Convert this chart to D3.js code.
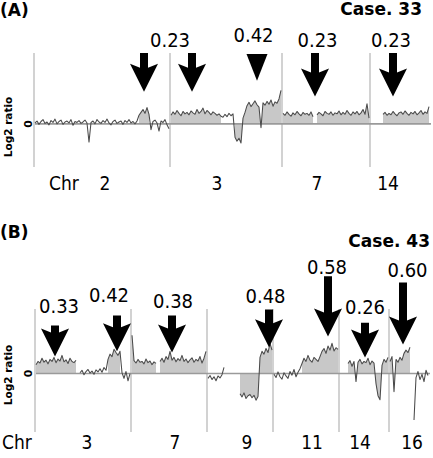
<!DOCTYPE html>
<html><head><meta charset="utf-8">
<script src="https://cdn.jsdelivr.net/npm/d3@7"></script>
<style>
html,body{margin:0;padding:0;background:#fff;}
svg{display:block;}
</style></head>
<body>
<script>
// ---------- Panel A (Case. 33) : log2 ratio per probe ----------
const chrNamesA = ["2", "3", "7", "14"];
const a2 = [0.02,0.06,-0.01,0.05,0.09,0.01,0.04,-0.02,0.07,0.03,
            0.10,0.00,0.05,0.08,-0.01,0.04,0.06,0.02,0.09,-0.03,
            0.05,0.03,0.07,0.01,0.04,0.08,0.02,-0.38,0.03,0.06,
            0.00,0.09,0.04,0.01,0.07,0.03,0.10,0.02,-0.02,0.05,
            0.08,0.01,0.04,0.06,-0.01,0.07,0.03,0.09,0.02,0.05,
            0.00,0.06,
            0.18,0.24,0.30,0.22,0.34,0.20,
            -0.12,0.05,0.08,0.02,-0.15,0.06,0.03,0.09,-0.02,-0.10];
const a3 = [0.18,0.25,0.20,0.28,0.22,0.17,0.26,0.21,0.24,0.19,
            0.27,0.23,0.20,0.30,0.22,0.26,0.33,0.21,0.28,0.24,
            0.19,0.25,0.22,0.18,0.21,0.16,
            0.14,0.20,0.15,0.22,0.17,0.21,
            -0.28,-0.36,-0.30,-0.40,
            0.12,0.24,
            0.38,0.45,0.36,0.42,0.48,0.40,0.35,-0.08,0.44,0.39,
            0.47,0.41,0.50,0.37,0.46,0.43,0.52,0.70];
const a7 = [0.22,0.18,0.25,0.20,0.16,0.23,0.19,0.26,0.21,0.17,0.24,0.20,0.22,0.18,0.25,0.15,
            null,
            0.19,0.24,0.21,0.17,0.26,0.22,0.20,0.25,0.18,0.23,
            0.21,0.27,0.19,0.24,0.20,0.28,0.22,0.18,0.25,0.21,
            0.26,0.19,0.23,0.30,0.20,0.42,0.12];
const a14 = [null,null,null,null,null,null,
             0.20,0.24,0.18,0.22,0.19,0.26,0.21,0.17,0.23,0.25,0.20,0.27,
             0.22,0.18,0.24,0.21,0.26,0.19,0.23,0.28,0.20,0.25,0.22,0.36];
// called (shaded) segments, probe index ranges within each chromosome
const callsA2 = [[52,57]];
const callsA3 = [[0,25],[32,55]];
const callsA7 = [[0,15],[17,43]];
const callsA14 = [[6,29]];
// chromosome label anchors (global probe index)
const chrLabelAtA = [35, 91, 141, 176.5];
// arrows
const arrowAtA = [54.5, 78.5, 111, 140, 179];
const arrowTopA = [1.48, 1.48, 1.46, 1.48, 1.48];
const arrowTipA = [0.67, 0.67, 0.90, 0.57, 0.57];
const arrowHeadOnlyA = [false, false, true, false, false];
const calloutTextA = ["0.23", "0.42", "0.23", "0.23"];
const calloutAtA = [67.5, 109.25, 141.25, 178];
const calloutLevelA = [1.61, 1.71, 1.61, 1.61];

// ---------- Panel B (Case. 43) ----------
const chrNamesB = ["3", "7", "9", "11", "14", "16"];
const b3 = [0.22,0.30,0.26,0.38,0.28,0.33,0.24,0.35,0.30,0.40,
            0.27,0.36,0.31,0.45,0.29,0.34,0.25,0.38,0.30,0.27,0.33,
            null,
            0.02,0.08,-0.03,0.05,0.10,0.01,0.06,-0.02,0.09,0.04,0.12,0.03,0.15,0.08,
            0.35,0.48,0.42,0.60,0.52,0.45,0.55,
            0.02,-0.12,0.05,-0.18,0.00];
const b7 = [0.95,
            0.32,0.26,0.35,0.28,0.30,0.24,0.36,0.27,0.31,0.22,0.29,0.25,
            null,
            0.30,0.38,0.28,0.42,0.35,0.55,0.33,0.40,0.29,0.37,
            0.32,0.45,0.30,0.36,0.27,0.34,0.39,0.28,0.35,0.31,
            0.42,0.26,0.38,0.55];
const b9 = [-0.12,-0.05,-0.15,-0.08,-0.18,-0.06,-0.11,-0.03,0.15,
            null,null,null,null,null,null,null,
            -0.50,-0.58,-0.48,-0.62,-0.55,-0.52,-0.60,-0.54,-0.66,-0.57,
            0.40,0.55,0.48,0.62,0.52,0.75,0.58];
const b11 = [-0.02,-0.10,0.04,-0.08,-0.14,0.02,-0.06,-0.12,0.05,-0.04,0.10,-0.08,0.03,0.12,
             0.25,0.38,0.30,0.45,0.33,0.28,0.40,0.35,0.30,0.42,
             0.55,0.62,0.50,0.68,0.58,0.75,0.56,0.64,0.60];
const b14 = [null,null,null,null,
             0.25,0.32,0.18,0.30,-0.20,0.28,0.35,0.24,0.30,0.27,0.38,0.22,0.31,0.26,
             -0.25,-0.55,-0.65,
             0.20,0.35,0.28,0.40];
const b16 = [0.30,0.42,-0.45,0.35,0.28,0.40,0.33,
             0.50,0.58,0.52,0.65,
             null,
             -1.15,-0.10,0.05,-0.15,-0.02,-0.20,0.08,-0.05];
const callsB3 = [[0,20],[36,42]];
const callsB7 = [[0,12],[14,37]];
const callsB9 = [[16,32]];
const callsB11 = [[14,32]];
const callsB14 = [[4,24]];
const callsB16 = [[0,10]];
const chrLabelAtB = [25.5, 69.5, 105.5, 138, 162, 188];
const arrowAtB = [9.5, 40.5, 68, 116.5, 146, 164.5, 183.5];
const arrowTopB = [1.19, 1.44, 1.44, 1.59, 2.41, 1.26, 2.26];
const arrowTipB = [0.42, 0.55, 0.52, 0.65, 0.92, 0.40, 0.72];
const arrowHeadOnlyB = [false, false, false, false, false, false, false];
const calloutTextB = ["0.33", "0.42", "0.38", "0.48", "0.58", "0.26", "0.60"];
const calloutAtB = [11.5, 36.5, 68.5, 114.75, 145.5, 164.5, 185.75];
const calloutLevelB = [1.50, 1.77, 1.63, 1.75, 2.47, 1.48, 2.39];

// ---------- drawing ----------
const W = 433, H = 458;
const svg = d3.select("body").append("svg").attr("width", W).attr("height", H);
const numFont = "'DejaVu Sans Condensed', 'DejaVu Sans', sans-serif";
const boldFont = "'DejaVu Sans', Verdana, sans-serif";

function buildProbes(chrArrays, callArrays) {
  const probes = [];
  const starts = [];
  let g = 0;
  chrArrays.forEach((arr, c) => {
    starts.push(g);
    arr.forEach((v, i) => {
      const called = callArrays[c].some(r => i >= r[0] && i <= r[1]);
      probes.push({g: g, v: v, c: c, called: called});
      g++;
    });
  });
  return {probes, starts, total: g};
}

function drawPanel(o) {
  const {probes, starts, total} = buildProbes(o.chrArrays, o.callArrays);
  const x = d3.scaleLinear().domain([0, total]).range(o.xRange);
  const y = d3.scaleLinear().domain(o.yDomain).range(o.yRange);
  const gp = svg.append("g");

  // chromosome boundary lines
  gp.selectAll("line.bnd").data(starts).enter().append("line")
    .attr("x1", d => x(d - 0.5)).attr("x2", d => x(d - 0.5))
    .attr("y1", o.yRange[0]).attr("y2", o.yRange[1])
    .attr("stroke", "#b4b4b4").attr("stroke-width", 1.2);

  // shaded called segments, per chromosome
  o.chrArrays.forEach((arr, c) => {
    const pts = probes.filter(p => p.c === c);
    const area = d3.area()
      .defined(p => p.v !== null && p.called)
      .x(p => x(p.g)).y0(y(0)).y1(p => y(p.v));
    gp.append("path").attr("d", area(pts)).attr("fill", "#c8c8c8").attr("stroke", "none");
  });

  // zero line
  gp.append("line").attr("x1", o.xRange[0]).attr("x2", o.xRange[1])
    .attr("y1", y(0)).attr("y2", y(0))
    .attr("stroke", "#9a9a9a").attr("stroke-width", 1.6);

  // raw data line
  o.chrArrays.forEach((arr, c) => {
    const pts = probes.filter(p => p.c === c);
    const line = d3.line().defined(p => p.v !== null).x(p => x(p.g)).y(p => y(p.v));
    gp.append("path").attr("d", line(pts)).attr("fill", "none")
      .attr("stroke", "#4a4a4a").attr("stroke-width", 1.05).attr("stroke-linejoin", "round");
  });

  // arrows
  const shaftHalf = 4, headHalf = 14, headLen = 28, barb = 4;
  o.arrowAt.forEach((a, i) => {
    const cx = x(a), y0 = y(o.arrowTop[i]), y1 = y(o.arrowTip[i]);
    let d;
    if (o.arrowHeadOnly[i]) {
      const hh = 10.5;
      d = `M${cx - hh},${y0} L${cx + hh},${y0} L${cx},${y1} Z`;
    } else {
      const hy = y1 - headLen;
      const jy = Math.max(y0, hy + barb);
      d = `M${cx - shaftHalf},${y0} L${cx + shaftHalf},${y0} L${cx + shaftHalf},${jy} L${cx + headHalf},${hy} L${cx},${y1} L${cx - headHalf},${hy} L${cx - shaftHalf},${jy} Z`;
    }
    gp.append("path").attr("d", d).attr("fill", "#000");
  });

  // callout values
  gp.selectAll("text.call").data(o.calloutText).enter().append("text")
    .attr("x", (d, i) => x(o.calloutAt[i])).attr("y", (d, i) => y(o.calloutLevel[i]))
    .attr("text-anchor", "middle").attr("font-family", numFont).attr("font-size", 20)
    .attr("fill", "#000").text(d => d);

  // chromosome labels
  gp.append("text").attr("x", x(o.chrWordAt)).attr("y", o.chrBaseline)
    .attr("text-anchor", "middle").attr("font-family", numFont).attr("font-size", 19).text("Chr");
  gp.selectAll("text.chr").data(o.chrNames).enter().append("text")
    .attr("x", (d, i) => x(o.chrLabelAt[i])).attr("y", o.chrBaseline)
    .attr("text-anchor", "middle").attr("font-family", numFont).attr("font-size", 19).text(d => d);

  // y axis label + zero tick label
  gp.append("text").attr("transform", `translate(12,${o.ylabelY}) rotate(-90)`)
    .attr("text-anchor", "middle").attr("font-family", boldFont).attr("font-weight", "bold")
    .attr("font-size", 10.5).text("Log2 ratio");
  gp.append("text").attr("transform", `translate(32,${y(0)}) rotate(-90)`)
    .attr("text-anchor", "middle").attr("font-family", boldFont).attr("font-weight", "bold")
    .attr("font-size", 11).text("0");

  // titles
  gp.append("text").attr("x", 0).attr("y", o.tagY).attr("font-family", boldFont)
    .attr("font-weight", "bold").attr("font-size", 17).text(o.tag);
  gp.append("text").attr("x", o.caseX).attr("y", o.caseY).attr("text-anchor", "end")
    .attr("font-family", boldFont).attr("font-weight", "bold").attr("font-size", 17).text(o.caseText);
}

drawPanel({
  chrArrays: [a2, a3, a7, a14], callArrays: [callsA2, callsA3, callsA7, callsA14],
  chrNames: chrNamesA, chrLabelAt: chrLabelAtA, chrWordAt: 14.5, chrBaseline: 190,
  xRange: [35, 431], yDomain: [-0.9, 1.48], yRange: [167, 53],
  arrowAt: arrowAtA, arrowTop: arrowTopA, arrowTip: arrowTipA, arrowHeadOnly: arrowHeadOnlyA,
  calloutText: calloutTextA, calloutAt: calloutAtA, calloutLevel: calloutLevelA,
  ylabelY: 127, tag: "(A)", tagY: 16, caseText: "Case. 33", caseX: 422, caseY: 15
});
drawPanel({
  chrArrays: [b3, b7, b9, b11, b14, b16], callArrays: [callsB3, callsB7, callsB9, callsB11, callsB14, callsB16],
  chrNames: chrNamesB, chrLabelAt: chrLabelAtB, chrWordAt: -9.5, chrBaseline: 449,
  xRange: [36, 430], yDomain: [-1.45, 1.6], yRange: [432, 309],
  arrowAt: arrowAtB, arrowTop: arrowTopB, arrowTip: arrowTipB, arrowHeadOnly: arrowHeadOnlyB,
  calloutText: calloutTextB, calloutAt: calloutAtB, calloutLevel: calloutLevelB,
  ylabelY: 375, tag: "(B)", tagY: 238, caseText: "Case. 43", caseX: 430, caseY: 247
});
</script>
</body></html>
